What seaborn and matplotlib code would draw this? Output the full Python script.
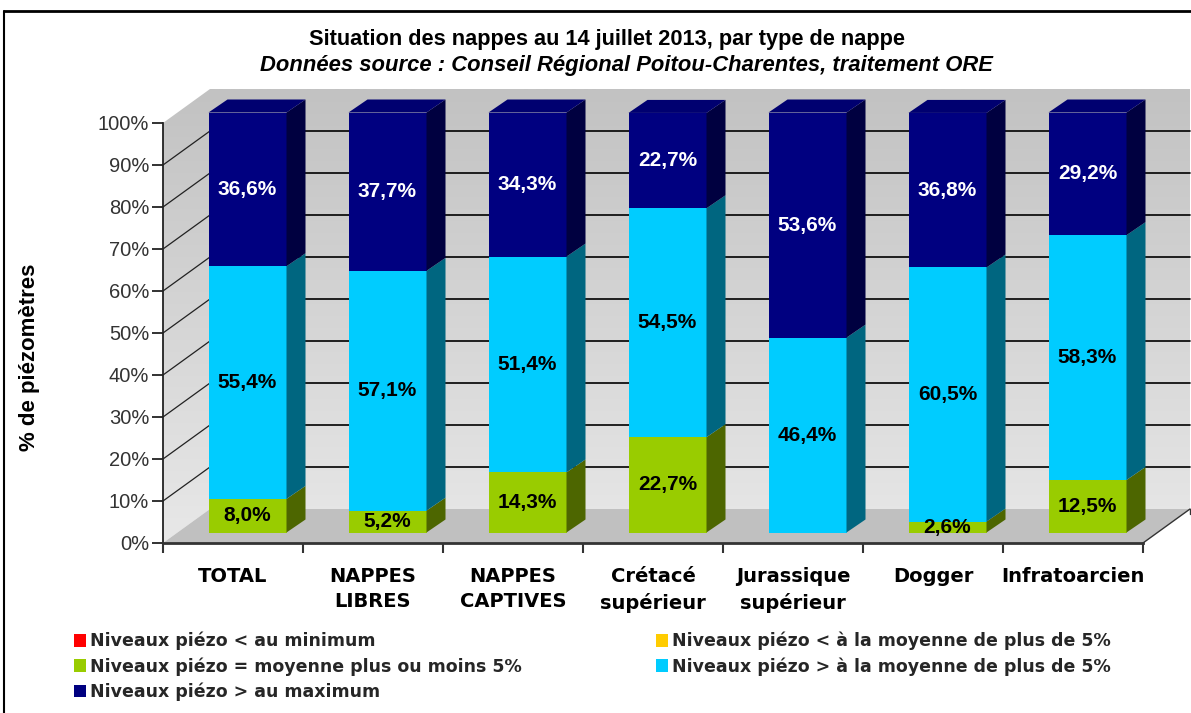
import numpy as np
import pandas as pd
import matplotlib
matplotlib.use("Agg")
import matplotlib.pyplot as plt
import matplotlib.transforms as mtrans
from matplotlib.patches import Polygon, Patch
from matplotlib.colors import LinearSegmentedColormap
from matplotlib.lines import Line2D
import seaborn as sns

# ---------------- data ----------------
categories = ["TOTAL", "NAPPES\nLIBRES", "NAPPES\nCAPTIVES", "Crétacé\nsupérieur",
              "Jurassique\nsupérieur", "Dogger", "Infratoarcien"]
below_min = [0.0, 0.0, 0.0, 0.0, 0.0, 0.0, 0.0]
below_avg = [0.0, 0.0, 0.0, 0.0, 0.0, 0.0, 0.0]
around_avg = [8.0, 5.2, 14.3, 22.7, 0.0, 2.6, 12.5]
above_avg = [55.4, 57.1, 51.4, 54.5, 46.4, 60.5, 58.3]
above_max = [36.6, 37.7, 34.3, 22.7, 53.6, 36.8, 29.2]

series_names = ["Niveaux piézo < au minimum",
                "Niveaux piézo < à la moyenne de plus de 5%",
                "Niveaux piézo = moyenne plus ou moins 5%",
                "Niveaux piézo > à la moyenne de plus de 5%",
                "Niveaux piézo > au maximum"]
series_values = [below_min, below_avg, around_avg, above_avg, above_max]
y_ticks = [0, 10, 20, 30, 40, 50, 60, 70, 80, 90, 100]
y_tick_labels = ["0%", "10%", "20%", "30%", "40%", "50%", "60%", "70%", "80%", "90%", "100%"]

title = "Situation des nappes au 14 juillet 2013, par type de nappe"
subtitle = "Données source : Conseil Régional Poitou-Charentes, traitement ORE"
ylabel = "% de piézomètres"

# ---------------- styles ----------------
front_colors = ["#FF0000", "#FFCC00", "#99CC00", "#00CCFF", "#000080"]
side_colors = ["#800000", "#806600", "#4D6600", "#006680", "#000040"]
top_colors = ["#E00000", "#E0B400", "#86B300", "#00B4E0", "#000070"]
label_colors = ["black", "black", "black", "black", "white"]

sns.set_theme(style="white")
plt.rcParams["font.family"] = ["Liberation Sans", "DejaVu Sans"]

W, H = 1191, 713
fig = plt.figure(figsize=(W / 100, H / 100), dpi=100)
fig.patch.set_facecolor("white")

ax_l, ax_r, ax_b, ax_t = 163, 1143, 543, 123  # pixel geometry of front plane
ax = fig.add_axes([ax_l / W, (H - ax_b) / H, (ax_r - ax_l) / W, (ax_b - ax_t) / H])
ax.set_facecolor("none")

n = len(categories)
px_x = (ax_r - ax_l) / n
px_y = (ax_b - ax_t) / 100.0
WDX, WDY = 47 / px_x, 34 / px_y          # wall depth
FDX, FDY = 14.5 / px_x, 10.5 / px_y      # bar front offset
BDX, BDY = 33.5 / px_x, 23.5 / px_y      # bar back offset
BAR_W = 78 / px_x

x0, x1 = -0.5, n - 0.5

# ---------------- walls ----------------
cmap = LinearSegmentedColormap.from_list("wall", ["#E8E8E8", "#C2C2C2"])
grad = np.linspace(0, 1, 256).reshape(-1, 1)
wall_poly = Polygon([(x0, 0), (x0, 100), (x0 + WDX, 100 + WDY), (x1 + WDX, 100 + WDY),
                     (x1 + WDX, WDY), (x0 + WDX, WDY)], closed=True,
                    transform=ax.transData, facecolor="none", edgecolor="none")
im = ax.imshow(grad, extent=[x0, x1 + WDX, 0, 100 + WDY], origin="lower",
               aspect="auto", cmap=cmap, zorder=0.5, interpolation="bilinear")
im.set_clip_box(fig.bbox)
im.set_clip_path(wall_poly)

floor = Polygon([(x0, 0), (x1, 0), (x1 + WDX, WDY), (x0 + WDX, WDY)], closed=True,
                facecolor="#C0C0C0", edgecolor="none", zorder=0.8, clip_on=False)
ax.add_patch(floor)
ax.plot([x1, x1 + WDX], [0, WDY], color="#333333", lw=1.0, zorder=0.9, clip_on=False)
ax.plot([x1 + WDX, x1 + WDX], [WDY, WDY - 1.2], color="#333333", lw=1.0, zorder=0.9, clip_on=False)

for yv in y_ticks[1:-1]:
    ax.plot([x0 + WDX, x1 + WDX], [yv + WDY, yv + WDY], color="black", lw=1.2,
            zorder=1.0, clip_on=False)
    ax.plot([x0, x0 + WDX], [yv, yv + WDY], color="#222222", lw=0.9,
            zorder=1.0, clip_on=False)

# ---------------- bars (front faces via seaborn) ----------------
values = np.array(series_values)
cum = np.cumsum(values, axis=0)
bottoms = cum - values
shift = mtrans.Affine2D().translate(FDX, FDY) + ax.transData

for k in range(len(series_names) - 1, -1, -1):
    df = pd.DataFrame({"cat": categories, "top": cum[k]})
    before = len(ax.patches)
    sns.barplot(data=df, x="cat", y="top", order=categories, color=front_colors[k],
                saturation=1, width=BAR_W, errorbar=None, linewidth=0, ax=ax)
    for p in ax.patches[before:]:
        p.set_transform(shift)
        p.set_zorder(3)
        p.set_clip_on(False)

# side and top faces derived from the same data
for i in range(n):
    xr = i + BAR_W / 2
    xl = i - BAR_W / 2
    for k in range(len(series_names)):
        v = values[k, i]
        if v <= 0:
            continue
        b, t = bottoms[k, i], cum[k, i]
        side = Polygon([(xr + FDX, b + FDY), (xr + BDX, b + BDY), (xr + BDX, t + BDY),
                        (xr + FDX, t + FDY)], closed=True, facecolor=side_colors[k],
                       edgecolor="none", zorder=3, clip_on=False)
        ax.add_patch(side)
    ktop = max(k for k in range(len(series_names)) if values[k, i] > 0)
    T = cum[ktop, i]
    top = Polygon([(xl + FDX, T + FDY), (xr + FDX, T + FDY), (xr + BDX, T + BDY),
                   (xl + BDX, T + BDY)], closed=True, facecolor=top_colors[ktop],
                  edgecolor="none", zorder=3, clip_on=False)
    ax.add_patch(top)
    for k in range(len(series_names)):
        v = values[k, i]
        if v <= 0:
            continue
        yc = bottoms[k, i] + v / 2 + FDY
        ax.text(i + FDX, yc, f"{v:.1f}".replace(".", ",") + "%", ha="center", va="center",
                fontsize=15, fontweight="bold", color=label_colors[k], zorder=5)

# ---------------- axes ----------------
ax.set_xlim(x0, x1)
ax.set_ylim(0, 100)
ax.set_xlabel("")
ax.set_ylabel("")
for s in ["top", "right"]:
    ax.spines[s].set_visible(False)
ax.spines["left"].set_color("#222222")
ax.spines["left"].set_linewidth(1.3)
ax.spines["bottom"].set_color("#333333")
ax.spines["bottom"].set_linewidth(2.0)
ax.set_yticks(y_ticks)
ax.set_yticklabels(y_tick_labels, fontsize=14.5, color="#333333")
ax.tick_params(axis="y", direction="out", length=8, width=1.3, color="#222222", pad=2, left=True)
ax.set_xticks(range(n))
ax.set_xticklabels(categories, fontsize=14, fontweight="bold", color="black",
                   family=["DejaVu Sans"], linespacing=1.45)
ax.tick_params(axis="x", length=0, pad=17)
ax.set_xticks(np.arange(n + 1) - 0.5, minor=True)
ax.tick_params(axis="x", which="minor", direction="out", length=7, width=1.5,
               color="#333333", bottom=True)
ax.grid(False)

# ---------------- texts ----------------
fig.text(607 / W, 1 - 39 / H, title, ha="center", va="center", fontsize=15.7,
         fontweight="bold", color="black")
fig.text(626 / W, 1 - 66 / H, subtitle, ha="center", va="center", fontsize=15.8,
         fontweight="bold", fontstyle="italic", color="black")
fig.text(30 / W, 1 - 357 / H, ylabel, ha="center", va="center", rotation=90,
         fontsize=16, fontweight="bold", color="black")

# ---------------- legend ----------------
order = [0, 2, 4, 1, 3]
handles = [Patch(facecolor=front_colors[k], edgecolor="none") for k in order]
labels = [series_names[k] for k in order]
fig.legend(handles, labels, loc="upper left", bbox_to_anchor=(74 / W, 1 - 632 / H),
           ncol=2, frameon=False, prop={"family": "DejaVu Sans", "weight": "bold", "size": 12.5},
           handlelength=0.7, handleheight=0.7, handletextpad=0.2, labelspacing=0.38,
           columnspacing=7.75, borderpad=0, borderaxespad=0)

# ---------------- frame ----------------
fig.add_artist(Line2D([4 / W, 4 / W], [0, 1 - 11 / H], color="black", lw=1.5))
fig.add_artist(Line2D([4 / W, 1], [1 - 11 / H, 1 - 11 / H], color="black", lw=2))

fig.savefig("out.png", dpi=100, facecolor="white")
